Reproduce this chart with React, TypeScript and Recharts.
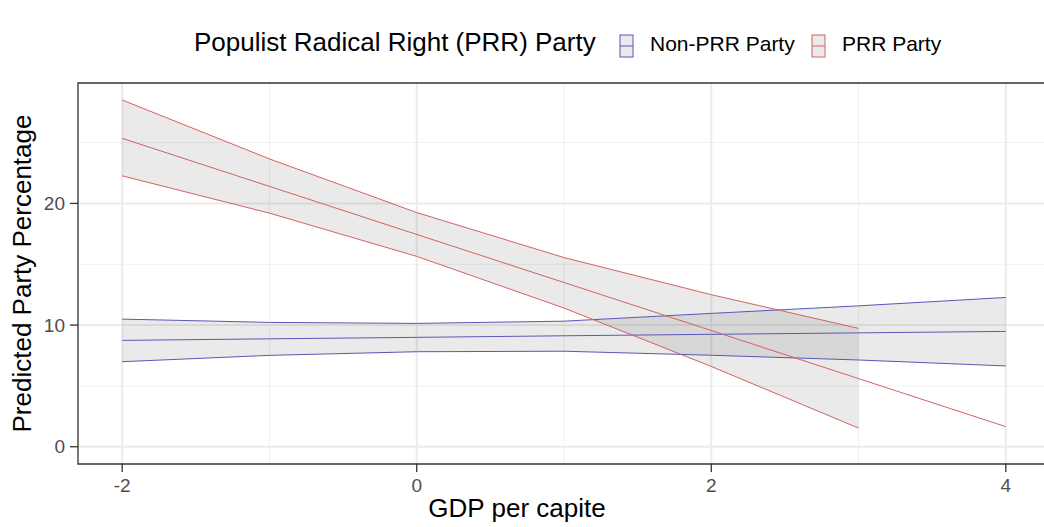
import {
  Area,
  CartesianGrid,
  ComposedChart,
  Label,
  Line,
  ReferenceArea,
  XAxis,
  YAxis,
} from "recharts";

const gdp = [-2, -1, 0, 1, 2, 3, 4];

const nonPrrFit = [8.74, 8.87, 8.99, 9.12, 9.24, 9.36, 9.48];
const nonPrrLow = [6.99, 7.51, 7.81, 7.85, 7.52, 7.13, 6.64];
const nonPrrHigh = [10.49, 10.22, 10.14, 10.32, 10.96, 11.58, 12.27];

const prrFit = [25.35, 21.4, 17.45, 13.5, 9.55, 5.6, 1.65];
const prrLow = [22.27, 19.2, 15.65, 11.4, 6.6, 1.53, null];
const prrHigh = [28.5, 23.66, 19.25, 15.55, 12.5, 9.73, null];

const xTicks = [-2, 0, 2, 4];
const xMinor = [-1, 1, 3];
const yTicks = [0, 10, 20];
const yMinor = [5, 15, 25];

const legendTitle = "Populist Radical Right (PRR) Party";
const legendLabels = ["Non-PRR Party", "PRR Party"];

const FONT = '"Liberation Sans", Arial, sans-serif';
const RED = "#D26262";
const BLUE = "#5858B8";

const rows = gdp.map((x, i) => ({
  x,
  nonFit: nonPrrFit[i],
  nonLow: nonPrrLow[i],
  nonHigh: nonPrrHigh[i],
  nonBand: [nonPrrLow[i], nonPrrHigh[i]],
  prrFit: prrFit[i],
  prrLow: prrLow[i],
  prrHigh: prrHigh[i],
  prrBand: prrLow[i] == null ? null : [prrLow[i], prrHigh[i]],
}));

const tickStyle = { fill: "#4D4D4D", fontSize: 19, fontFamily: FONT };

const LegendKey = ({ x, color }: { x: number; color: string }) => (
  <g>
    <rect x={x} y={35} width={13} height={22} fill="#EBEBEB" stroke={color} strokeWidth={1} />
    <line x1={x} x2={x + 13} y1={46} y2={46} stroke={color} strokeWidth={1} />
  </g>
);

export default function App() {
  return (
    <div
      style={{
        position: "absolute",
        left: 0,
        top: 0,
        width: 1044,
        height: 527,
        overflow: "hidden",
        background: "#fff",
      }}
    >
      <svg
        width={1044}
        height={80}
        style={{ position: "absolute", left: 0, top: 0 }}
        fontFamily={FONT}
      >
        <text x={194} y={51} fontSize={26} fill="#000">
          {legendTitle}
        </text>
        <LegendKey x={620} color={BLUE} />
        <text x={650} y={51} fontSize={21} fill="#000">
          {legendLabels[0]}
        </text>
        <LegendKey x={812} color={RED} />
        <text x={842} y={51} fontSize={21} fill="#000">
          {legendLabels[1]}
        </text>
      </svg>
      <ComposedChart
        width={1060}
        height={527}
        data={rows}
        margin={{ top: 83, right: 10, bottom: 0, left: 0 }}
      >
        <CartesianGrid
          stroke="#F0F0F0"
          strokeWidth={1}
          verticalValues={xMinor}
          horizontalValues={yMinor}
        />
        <CartesianGrid
          stroke="#EBEBEB"
          strokeWidth={2}
          verticalValues={xTicks}
          horizontalValues={yTicks}
        />
        <XAxis
          dataKey="x"
          type="number"
          domain={[-2.3, 4.3]}
          ticks={xTicks}
          allowDataOverflow
          height={63}
          axisLine={false}
          tickSize={8}
          tickMargin={7}
          tickLine={{ stroke: "#333", strokeWidth: 1.3 }}
          tick={tickStyle}
        >
          <Label
            content={({ viewBox }: any) => (
              <text
                x={viewBox.x + 439}
                y={viewBox.y + 53}
                textAnchor="middle"
                fontSize={26}
                fontFamily={FONT}
                fill="#000"
              >
                GDP per capite
              </text>
            )}
          />
        </XAxis>
        <YAxis
          type="number"
          domain={[-1.42, 29.9]}
          ticks={yTicks}
          allowDataOverflow
          width={78}
          axisLine={false}
          tickSize={8}
          tickMargin={5}
          tickLine={{ stroke: "#333", strokeWidth: 1.3 }}
          tick={tickStyle}
        >
          <Label
            content={({ viewBox }: any) => {
              const cx = viewBox.x + 22;
              const cy = viewBox.y + viewBox.height / 2;
              return (
                <text
                  x={cx}
                  y={cy}
                  transform={`rotate(-90 ${cx} ${cy})`}
                  textAnchor="middle"
                  dominantBaseline="central"
                  fontSize={26}
                  fontFamily={FONT}
                  fill="#000"
                >
                  Predicted Party Percentage
                </text>
              );
            }}
          />
        </YAxis>
        <Area
          dataKey="nonBand"
          type="linear"
          fill="#333"
          fillOpacity={0.1}
          stroke="none"
          isAnimationActive={false}
        />
        <Area
          dataKey="prrBand"
          type="linear"
          fill="#333"
          fillOpacity={0.1}
          stroke="none"
          isAnimationActive={false}
        />
        <Line dataKey="nonLow" type="linear" stroke={BLUE} strokeWidth={1} dot={false} isAnimationActive={false} />
        <Line dataKey="nonFit" type="linear" stroke={BLUE} strokeWidth={1} dot={false} isAnimationActive={false} />
        <Line dataKey="nonHigh" type="linear" stroke={BLUE} strokeWidth={1} dot={false} isAnimationActive={false} />
        <Line dataKey="prrLow" type="linear" stroke={RED} strokeWidth={1} dot={false} isAnimationActive={false} />
        <Line dataKey="prrFit" type="linear" stroke={RED} strokeWidth={1} dot={false} isAnimationActive={false} />
        <Line dataKey="prrHigh" type="linear" stroke={RED} strokeWidth={1} dot={false} isAnimationActive={false} />
        <ReferenceArea
          x1={-2.3}
          x2={4.3}
          y1={-1.42}
          y2={29.9}
          fill="none"
          stroke="#333"
          strokeWidth={1.3}
          ifOverflow="visible"
        />
      </ComposedChart>
    </div>
  );
}
